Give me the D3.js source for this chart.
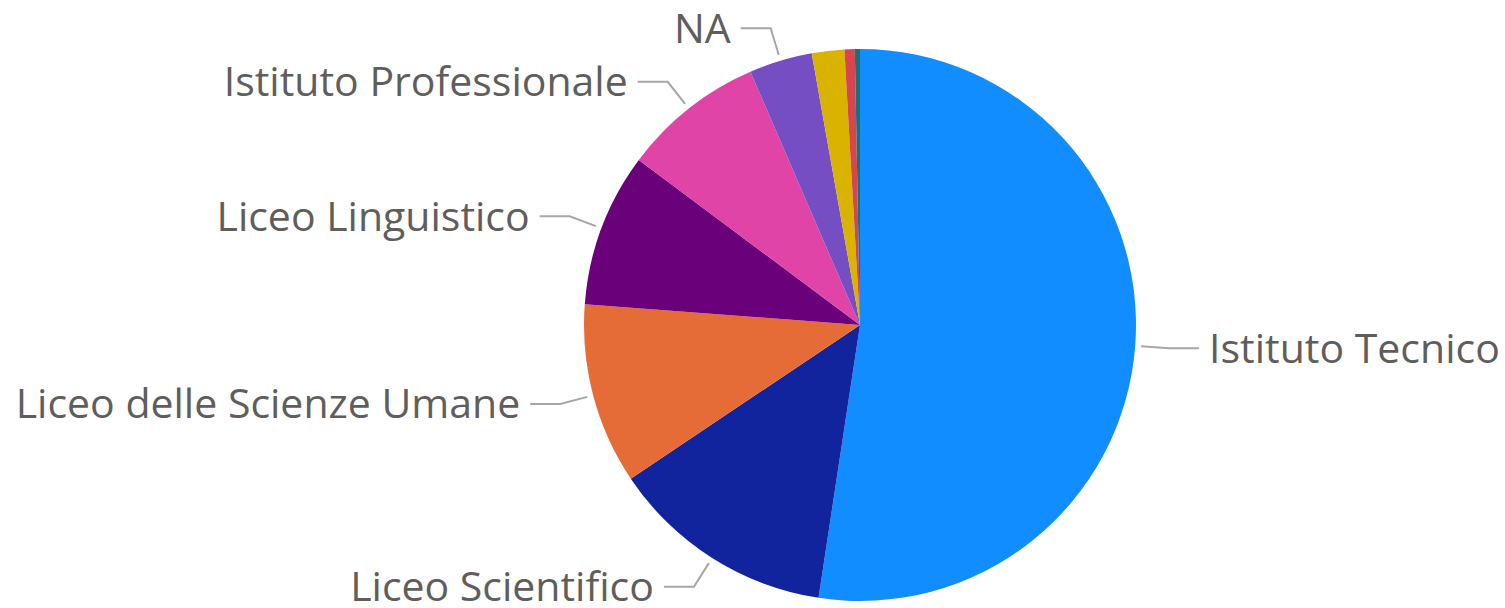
<!DOCTYPE html>
<html lang="it">
    <head>
        <meta charset="utf-8">
        <title>Tipo di scuola</title>
        <script src="https://d3js.org/d3.v7.min.js"></script>
        <style type="text/css">
        body { margin: 0; background: #ffffff; }
        </style>
    </head>
    <body>
        <script type="text/javascript">

//1. consts
const svgWidth = 1505;
const svgHeight = 608;
const cx = 860;
const cy = 325;
const radius = 276;

//2. data (percent)
const categories = ["Istituto Tecnico", "Liceo Scientifico", "Liceo delle Scienze Umane",
                    "Liceo Linguistico", "Istituto Professionale", "NA",
                    "Liceo Classico", "Liceo Artistico", "Altro"];
const values = [52.4, 13.2, 10.6, 9.0, 8.3, 3.7, 1.9, 0.6, 0.3];
const labelled = [true, true, true, true, true, true, false, false, false];
const colors = ["#118DFF", "#12239E", "#E66C37", "#6B007B", "#E044A7",
                "#744EC2", "#D9B300", "#D64550", "#197278"];

const data = categories.map((c, i) => ({name: c, value: values[i], show: labelled[i]}));

//3. layout
const pie = d3.pie()
    .value(d => d.value)
    .sort(null);

const arc = d3.arc()
    .innerRadius(0)
    .outerRadius(radius);

const color = d3.scaleOrdinal()
    .domain(categories)
    .range(colors);

//4. svg
const svg = d3.select("body")
    .append("svg")
    .attr("width", svgWidth)
    .attr("height", svgHeight);

const g = svg.append("g")
    .attr("transform", "translate(" + cx + "," + cy + ")");

const arcs = pie(data);

//5. slices
g.selectAll("path.slice")
    .data(arcs)
    .enter()
    .append("path")
    .attr("class", "slice")
    .attr("d", arc)
    .attr("fill", d => color(d.data.name));

//6. leader lines + labels
const pt = (r, a) => [r * Math.sin(a), -r * Math.cos(a)];
const lineStart = radius + 6;
const lineElbow = radius + 34;
const tail = 30;

const withLabel = arcs.filter(d => d.data.show);

g.selectAll("polyline.leader")
    .data(withLabel)
    .enter()
    .append("polyline")
    .attr("class", "leader")
    .attr("points", d => {
        const a = (d.startAngle + d.endAngle) / 2;
        const p1 = pt(lineStart, a);
        const p2 = pt(lineElbow, a);
        const side = Math.sin(a) >= 0 ? 1 : -1;
        const p3 = [p2[0] + side * tail, p2[1]];
        return [p1, p2, p3].map(p => p.join(",")).join(" ");
    })
    .attr("fill", "none")
    .attr("stroke", "#a6a6a6")
    .attr("stroke-width", 2);

g.selectAll("text.label")
    .data(withLabel)
    .enter()
    .append("text")
    .attr("class", "label")
    .attr("x", d => {
        const a = (d.startAngle + d.endAngle) / 2;
        const side = Math.sin(a) >= 0 ? 1 : -1;
        return pt(lineElbow, a)[0] + side * (tail + 10);
    })
    .attr("y", d => pt(lineElbow, (d.startAngle + d.endAngle) / 2)[1])
    .attr("dy", "0.35em")
    .attr("text-anchor", d => Math.sin((d.startAngle + d.endAngle) / 2) >= 0 ? "start" : "end")
    .attr("font-family", "'Open Sans', 'Noto Sans', sans-serif")
    .attr("font-size", "41px")
    .attr("fill", "#605e5c")
    .text(d => d.data.name);

</script>
</body>
</html>
